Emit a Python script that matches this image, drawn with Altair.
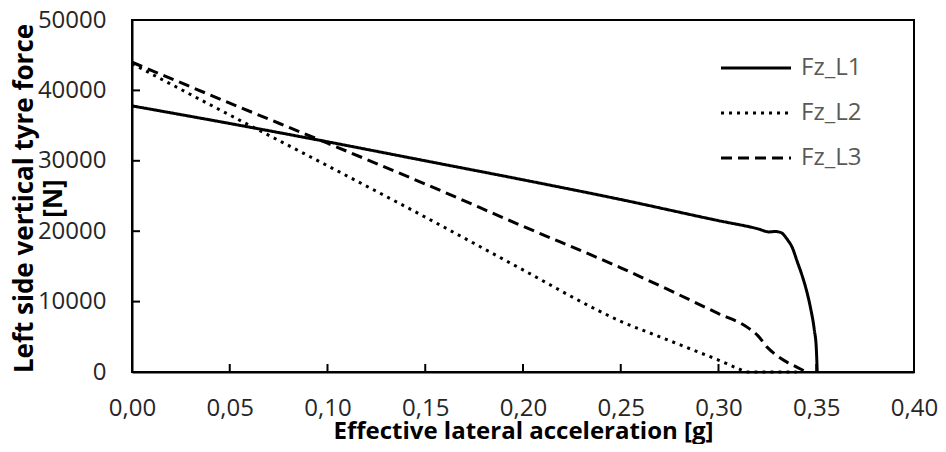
import altair as alt
import pandas as pd

# ---- data ----
series_names = ["Fz_L1", "Fz_L2", "Fz_L3"]

l1_x = [0.0, 0.05, 0.10, 0.15, 0.20, 0.25, 0.30, 0.32, 0.326, 0.329, 0.332, 0.335,
        0.338, 0.340, 0.343, 0.345, 0.347, 0.349, 0.350, 0.3505]
l1_y = [37800, 35300, 32700, 30000, 27300, 24500, 21500, 20350, 19900, 19950, 19800, 18900,
        17500, 15900, 13500, 11600, 9200, 6000, 3500, 0]

l2_x = [0.0, 0.05, 0.10, 0.15, 0.20, 0.238, 0.25, 0.27, 0.29, 0.30, 0.31, 0.315, 0.34]
l2_y = [43800, 36500, 29300, 22000, 14500, 8800, 7200, 5000, 2800, 1700, 500, 0, 0]

l3_x = [0.0, 0.05, 0.10, 0.15, 0.20, 0.25, 0.30, 0.315, 0.32, 0.325, 0.33, 0.335, 0.34, 0.345]
l3_y = [44000, 38200, 32500, 26700, 20700, 14800, 8300, 6300, 5200, 3500, 2300, 1400, 700, 0]

x_ticks = [0.0, 0.05, 0.10, 0.15, 0.20, 0.25, 0.30, 0.35, 0.40]
y_ticks = [0, 10000, 20000, 30000, 40000, 50000]

x_title = "Effective lateral acceleration [g]"
y_title = ["Left side vertical tyre force", "[N]"]

rows = []
for name, xs, ys in zip(series_names, [l1_x, l2_x, l3_x], [l1_y, l2_y, l3_y]):
    for i, (xv, yv) in enumerate(zip(xs, ys)):
        rows.append({"series": name, "x": xv, "y": yv, "order": i})
df = pd.DataFrame(rows)
xt_df = pd.DataFrame({"x": x_ticks[1:-1]})
yt_df = pd.DataFrame({"y": y_ticks[1:-1]})

W, H = 782, 352
TICK = 8
FONT = "Open Sans"

xscale = alt.Scale(domain=[0, 0.4], nice=False, zero=False)
yscale = alt.Scale(domain=[0, 50000], nice=False)

main_x_axis = alt.Axis(
    values=x_ticks, ticks=False, tickSize=0, grid=False, labelFlush=False,
    labelExpr="replace(format(datum.value, '.2f'), '.', ',')",
    labelFontSize=24, labelFont=FONT, labelColor="#262626", labelPadding=24,
    domainColor="black", domainWidth=2,
    title=x_title, titleFont=FONT, titleFontSize=24, titleFontWeight="bold",
    titleColor="black", titleBaseline="alphabetic", titleY=66,
)
main_y_axis = alt.Axis(
    values=y_ticks, ticks=False, tickSize=0, grid=False, format="d", labelFlush=False,
    labelFontSize=24, labelFont=FONT, labelColor="#262626", labelPadding=26,
    domainColor="black", domainWidth=2,
    title=y_title, titleFont=FONT, titleFontSize=26, titleFontWeight="bold",
    titleColor="black", titleBaseline="alphabetic", titleAngle=270,
    titleX=-100, titleY=H / 2 + 2, titleLineHeight=29, titleAlign="center",
)

dash_scale = alt.Scale(domain=series_names, range=[[1, 0], [3, 5], [11, 6]])

lines = alt.Chart(df).mark_line(
    color="black", strokeWidth=3, strokeCap="butt", interpolate="monotone"
).encode(
    x=alt.X("x:Q", scale=xscale, axis=main_x_axis),
    y=alt.Y("y:Q", scale=yscale, axis=main_y_axis),
    strokeDash=alt.StrokeDash(
        "series:N", scale=dash_scale,
        legend=alt.Legend(
            orient="none", legendX=612, legendY=36, title=None,
            symbolType="M-7,0H7", symbolSize=100, symbolStrokeWidth=3,
            symbolStrokeColor="black", symbolFillColor="transparent",
            labelFont=FONT, labelFontSize=24, labelColor="#595959",
            labelOffset=33, rowPadding=21, padding=0,
        ),
    ),
    order="order:Q",
)

# inward-pointing tick marks at the axis values (axis decoration)
x_tick_marks = alt.Chart(xt_df).mark_rule(color="black", strokeWidth=2).encode(
    x=alt.X("x:Q", scale=xscale, axis=main_x_axis),
    y=alt.value(H),
    y2=alt.value(H - TICK),
)
y_tick_marks = alt.Chart(yt_df).mark_rule(color="black", strokeWidth=2).encode(
    y=alt.Y("y:Q", scale=yscale, axis=main_y_axis),
    x=alt.value(0),
    x2=alt.value(TICK),
)

chart = alt.layer(lines, x_tick_marks, y_tick_marks).properties(
    width=W, height=H, autosize="none",
    padding={"left": 124, "top": 12, "right": 24, "bottom": 72},
).configure_view(stroke="black", strokeWidth=2)

chart.save("out.html", embed_options={"renderer": "svg", "actions": False})
